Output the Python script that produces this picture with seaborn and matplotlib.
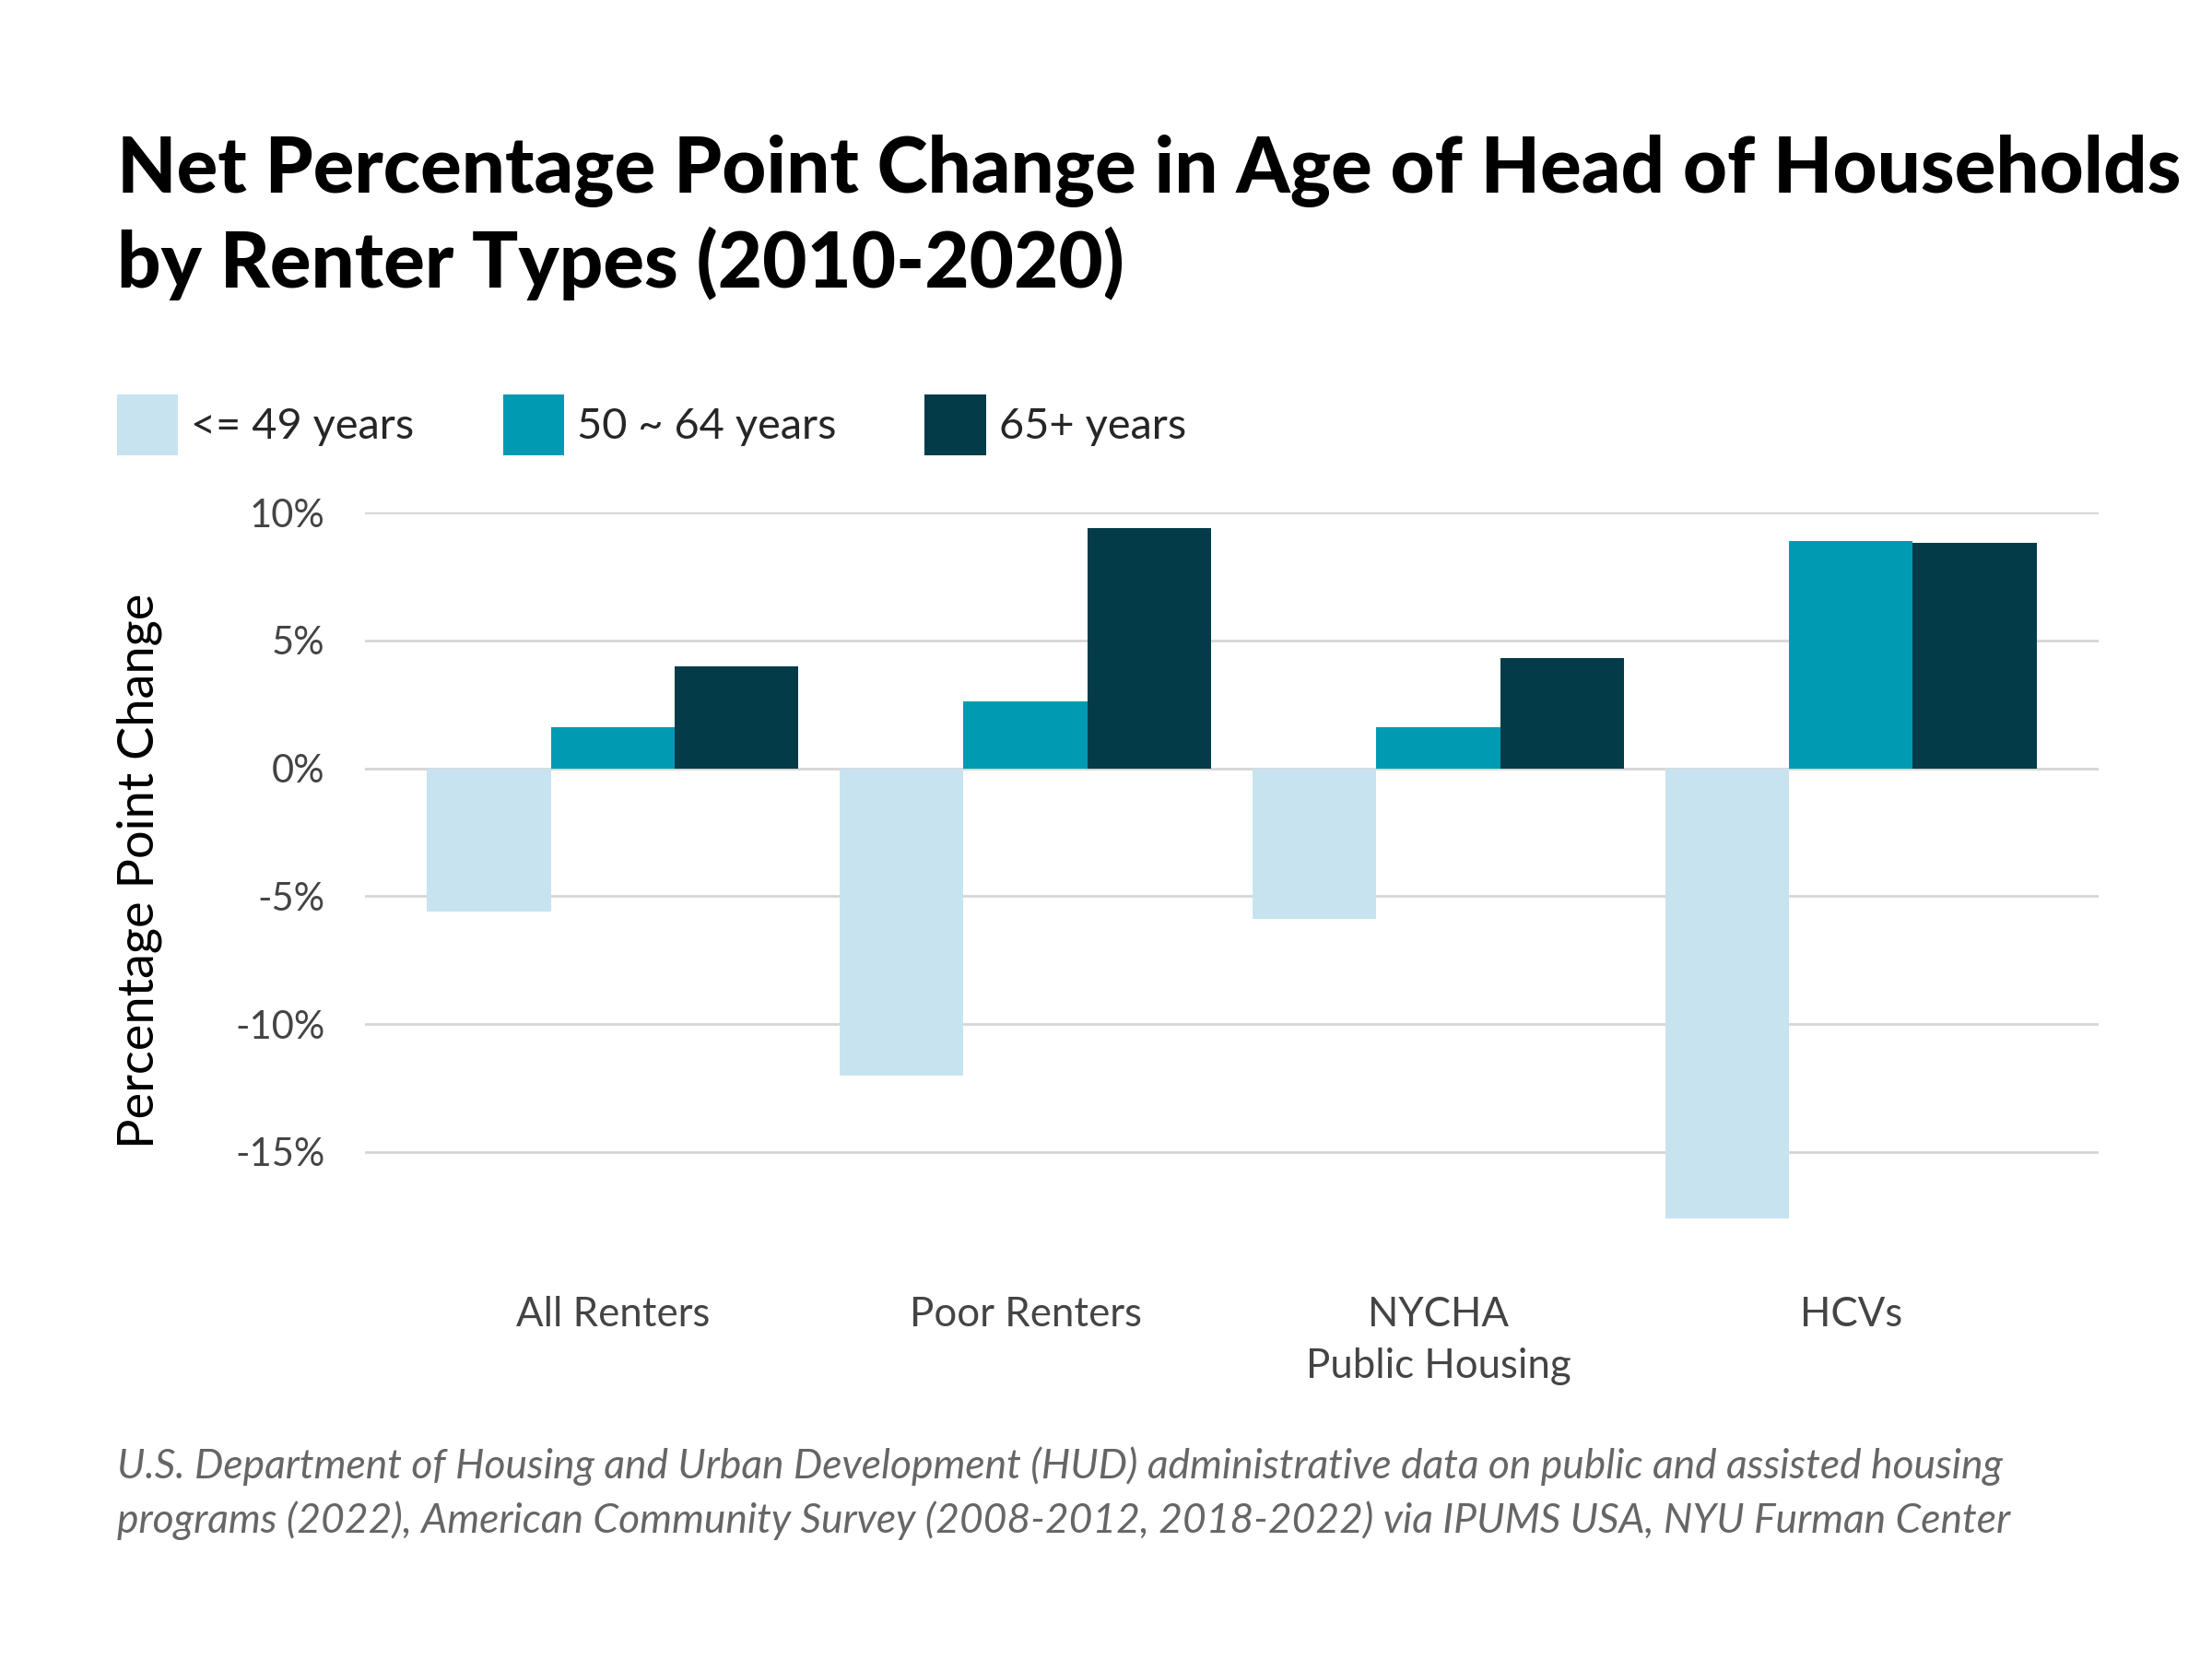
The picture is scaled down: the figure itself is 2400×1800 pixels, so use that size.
import matplotlib
matplotlib.use("Agg")
import matplotlib.pyplot as plt
from matplotlib.patches import Patch
import seaborn as sns
import pandas as pd

categories = ["All Renters", "Poor Renters", "NYCHA\nPublic Housing", "HCVs"]
age_groups = ["<= 49 years", "50 ~ 64 years", "65+ years"]
under_49 = [-5.6, -12.0, -5.9, -17.6]
age_50_64 = [1.6, 2.6, 1.6, 8.9]
age_65_plus = [4.0, 9.4, 4.3, 8.8]
yticks = [-15, -10, -5, 0, 5, 10]
ytick_labels = ["-15%", "-10%", "-5%", "0%", "5%", "10%"]
colors = ["#C7E3EF", "#009BB2", "#033B48"]

title = "Net Percentage Point Change in Age of Head of Households\nby Renter Types (2010-2020)"
source = ("U.S. Department of Housing and Urban Development (HUD) administrative data on public and assisted housing\n"
          "programs (2022), American Community Survey (2008-2012, 2018-2022) via IPUMS USA, NYU Furman Center")

rows = []
for g, vals in zip(age_groups, [under_49, age_50_64, age_65_plus]):
    for c, v in zip(categories, vals):
        rows.append({"category": c, "age": g, "value": v})
df = pd.DataFrame(rows)

sns.set_theme(style="white")
plt.rcParams["font.family"] = ["Lato", "DejaVu Sans"]

fig = plt.figure(figsize=(16, 12), dpi=150)
ax = fig.add_axes([0.165, 0.2594, 0.7837, 0.4317])

sns.barplot(data=df, x="category", y="value", hue="age", order=categories,
            hue_order=age_groups, palette=colors, width=0.9, saturation=1,
            errorbar=None, ax=ax, legend=False, zorder=3, linewidth=0)

ax.set_ylim(-18, 10)
ax.set_xlim(-0.6, 3.6)
ax.set_yticks(yticks)
ax.set_yticklabels(ytick_labels)
ax.grid(axis="y", color="#d4d4d4", linewidth=1.3, zorder=0)
ax.grid(axis="x", visible=False)
ax.set_axisbelow(True)
for s in ax.spines.values():
    s.set_visible(False)
ax.tick_params(axis="both", length=0, colors="#444444")
ax.tick_params(axis="x", pad=35, labelsize=21)
ax.tick_params(axis="y", pad=21, labelsize=20)
for lbl in ax.get_xticklabels():
    lbl.set_linespacing(1.45)
ax.set_xlabel("")
ax.set_ylabel("Percentage Point Change", fontsize=26, color="black", labelpad=38)

fig.text(0.053, 0.919, title, fontsize=40, fontweight="black", color="black",
         ha="left", va="top", linespacing=1.32)

handles = [Patch(facecolor=c, edgecolor="none", label=g) for c, g in zip(colors, age_groups)]
fig.legend(handles=handles, loc="center left", bbox_to_anchor=(0.053, 0.744), ncol=3,
           frameon=False, fontsize=22.5, handlelength=1.41, handleheight=1.78,
           handletextpad=0.3, columnspacing=2.05, borderaxespad=0, borderpad=0)

fig.text(0.053, 0.128, source, fontsize=21.3, style="italic", color="#666666",
         ha="left", va="top", linespacing=1.45)

fig.savefig("out.png", dpi=150, facecolor="white")
